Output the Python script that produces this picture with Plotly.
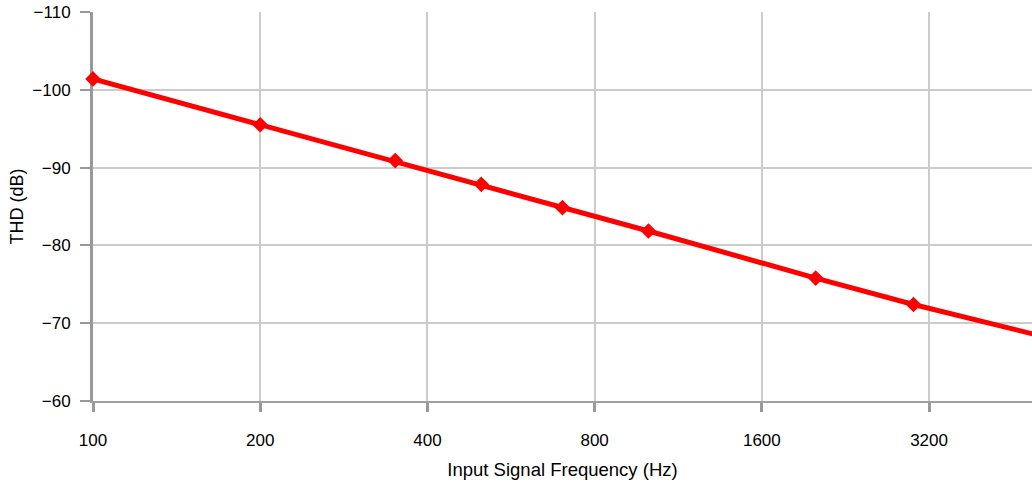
import math
import plotly.graph_objects as go

# Data
frequency_hz = [100, 200, 350, 500, 700, 1000, 2000, 3000, 5000]
thd_db = [-101.4, -95.5, -90.9, -87.85, -84.85, -81.85, -75.8, -72.4, -68.5]

x_tick_vals = [100, 200, 400, 800, 1600, 3200]
x_tick_text = ["100", "200", "400", "800", "1600", "3200"]
y_tick_vals = [-110, -100, -90, -80, -70, -60]

FONT = "Liberation Sans, Arial, Helvetica, sans-serif"

fig = go.Figure()
fig.add_trace(go.Scatter(
    x=frequency_hz,
    y=thd_db,
    mode="lines+markers",
    line=dict(color="#ff0000", width=5),
    marker=dict(symbol="diamond", size=12, color="#ff0000"),
    cliponaxis=False,
    showlegend=False,
))

fig.update_layout(
    width=1032,
    height=483,
    margin=dict(l=93, r=0, t=12, b=82),
    paper_bgcolor="white",
    plot_bgcolor="white",
    font=dict(family=FONT, size=17, color="#000000"),
    xaxis=dict(
        type="log",
        range=[math.log10(100), math.log10(4903)],
        tickmode="array",
        tickvals=x_tick_vals,
        ticktext=x_tick_text,
        showgrid=True,
        gridcolor="#cccccc",
        gridwidth=2,
        showline=True,
        linecolor="#a0a0a0",
        linewidth=2,
        ticks="outside",
        ticklen=9,
        tickwidth=3,
        tickcolor="#999999",
        ticklabelstandoff=14,
        zeroline=False,
        layer="below traces",
        title=dict(text="Input Signal Frequency (Hz)", font=dict(size=18.5), standoff=14),
    ),
    yaxis=dict(
        range=[-60, -110],
        tickmode="array",
        tickvals=y_tick_vals,
        showgrid=True,
        gridcolor="#cccccc",
        gridwidth=2,
        showline=True,
        linecolor="#999999",
        linewidth=3,
        ticks="outside",
        ticklen=10,
        tickwidth=2,
        tickcolor="#999999",
        ticklabelstandoff=6,
        zeroline=False,
        layer="below traces",
        title=dict(text="THD (dB)", font=dict(size=18), standoff=5),
    ),
)

fig.write_html(
    "out.html",
    config={"displayModeBar": False},
    post_script="document.body.style.margin='0';document.body.style.overflow='hidden';",
)
